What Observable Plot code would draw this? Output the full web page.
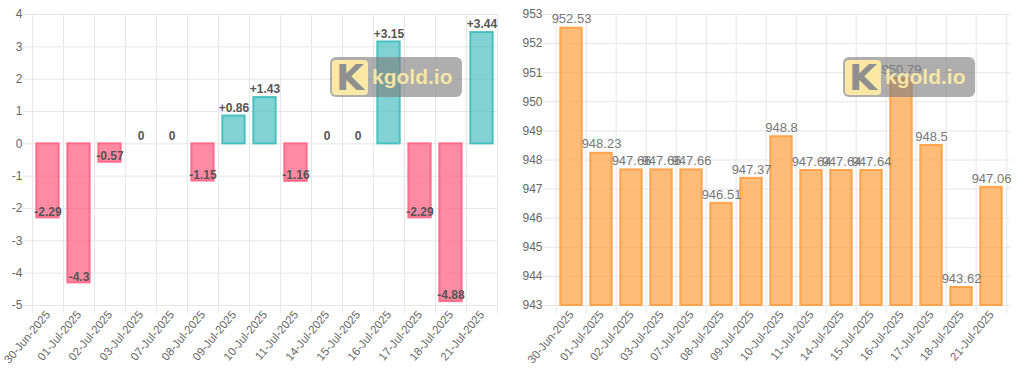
<!DOCTYPE html>
<html><head><meta charset="utf-8">
<script src="https://cdn.jsdelivr.net/npm/d3@7"></script>
<script src="https://cdn.jsdelivr.net/npm/@observablehq/plot@0.6"></script>
<style>
body{margin:0;background:#fff;font-family:"Liberation Sans",Arial,Helvetica,sans-serif}
#wrap{display:flex;width:1024px;height:369px;position:relative;overflow:hidden}
#wrap svg{display:block}
.wm{position:absolute;top:57px;width:132px;height:40px;background:rgba(125,125,125,0.62);border-radius:6px;display:flex;align-items:center;pointer-events:none}
.wm .k{margin-left:2px;width:36px;height:35px;background:#fbe8a4;border-radius:4px;color:#8f8f8f;font-weight:900;font-size:36px;line-height:36px;text-align:center;font-family:"DejaVu Sans",Arial,sans-serif}
.wm .t{margin-left:4px;color:rgba(252,234,166,0.95);font-weight:bold;font-size:21px;font-family:"Liberation Sans",Arial,sans-serif}
</style></head><body>
<div id="wrap"><div id="left"></div><div id="right"></div>
<div class="wm" style="left:330px"><div class="k">K</div><div class="t">kgold.io</div></div>
<div class="wm" style="left:843px"><div class="k">K</div><div class="t">kgold.io</div></div>
</div>
<script>
const dates = ["30-Jun-2025","01-Jul-2025","02-Jul-2025","03-Jul-2025","07-Jul-2025","08-Jul-2025","09-Jul-2025","10-Jul-2025","11-Jul-2025","14-Jul-2025","15-Jul-2025","16-Jul-2025","17-Jul-2025","18-Jul-2025","21-Jul-2025"];
const changes = [-2.29,-4.3,-0.57,0,0,-1.15,0.86,1.43,-1.16,0,0,3.15,-2.29,-4.88,3.44];
const prices = [952.53,948.23,947.66,947.66,947.66,946.51,947.37,948.8,947.64,947.64,947.64,950.79,948.5,943.62,947.06];
const leftTicks = [-5,-4,-3,-2,-1,0,1,2,3,4];
const rightTicks = [943,944,945,946,947,948,949,950,951,952,953];

const FONT = '"Liberation Sans",Arial,Helvetica,sans-serif';
const GRID = "#e6e6e6";

function chart({values, domain, ticks, base, ml, mr, fillFn, strokeFn, textFn, negDy, posDy, labelFill, labelWeight, labelSize}) {
  const W = 512, H = 369, mt = 14, mb = 64;
  const step = (W - ml - mr) / dates.length;
  const rows = dates.map((d, i) => ({d, v: values[i]}));
  const neg = rows.filter(r => r.v < 0);
  const pos = rows.filter(r => r.v >= 0);
  const textOpts = {x: "d", y: "v", text: r => textFn(r.v), fill: labelFill, fontWeight: labelWeight, fontSize: labelSize};
  return Plot.plot({
    width: W, height: H, marginLeft: ml, marginRight: mr, marginTop: mt, marginBottom: mb,
    style: {fontFamily: FONT, fontSize: "12px", color: "#666", background: "transparent", overflow: "visible"},
    x: {type: "band", domain: dates, padding: 0, label: null},
    y: {domain, nice: false, label: null},
    marks: [
      Plot.ruleY(ticks, {stroke: GRID, strokeWidth: 1, insetLeft: -8}),
      Plot.ruleX(dates, {x: d => d, dx: -step / 2, stroke: GRID, strokeWidth: 1, insetBottom: -8}),
      Plot.ruleX([dates[dates.length - 1]], {x: d => d, dx: step / 2, stroke: GRID, strokeWidth: 1, insetBottom: -8}),
      Plot.rectY(rows, {x: "d", y1: base, y2: "v", fill: r => fillFn(r.v), stroke: r => strokeFn(r.v), strokeWidth: 2, insetLeft: step * 0.14, insetRight: step * 0.14}),
      Plot.axisX({tickRotate: -50, tickSize: 0, tickPadding: 7, fill: "#666", fontSize: 11.5, label: null}),
      Plot.axisY({ticks, tickSize: 0, tickPadding: 9, fill: "#666", fontSize: 12, tickFormat: d => String(d), label: null}),
      Plot.text(neg, {...textOpts, dy: negDy}),
      Plot.text(pos, {...textOpts, dy: posDy})
    ]
  });
}

document.getElementById("left").append(chart({
  values: changes, domain: [-5, 4], ticks: leftTicks, base: 0, ml: 31, mr: 15,
  fillFn: v => v > 0 ? "rgba(75,192,192,0.7)" : "rgba(255,99,132,0.75)",
  strokeFn: v => v > 0 ? "rgb(75,192,192)" : "rgba(255,99,132,0.9)",
  textFn: v => v > 0 ? "+" + v : String(v),
  negDy: -6, posDy: -8,
  labelFill: "#555", labelWeight: "bold", labelSize: 12
}));

document.getElementById("right").append(chart({
  values: prices, domain: [943, 953], ticks: rightTicks, base: 943, ml: 39, mr: 14,
  fillFn: v => "rgba(255,159,64,0.7)",
  strokeFn: v => "rgba(255,159,64,0.9)",
  textFn: v => String(v),
  negDy: -9, posDy: -9,
  labelFill: "#777", labelWeight: "normal", labelSize: 13
}));
</script>
</body></html>
